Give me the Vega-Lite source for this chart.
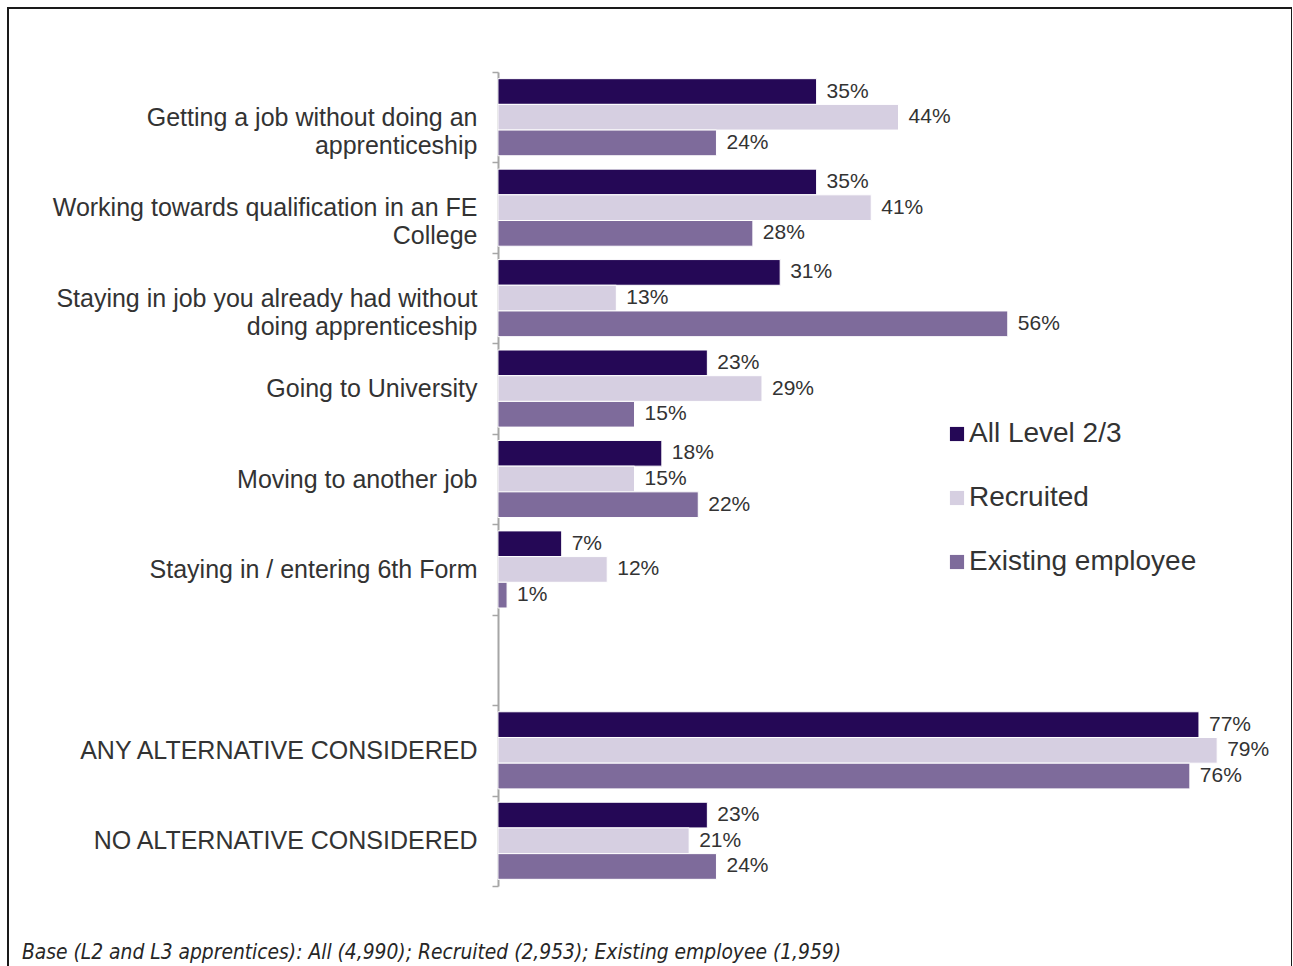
{
  "$schema": "https://vega.github.io/schema/vega-lite/v6.json",
  "width": 1284,
  "height": 960,
  "autosize": {"type": "none"},
  "padding": {"left": 8, "top": 8, "right": 0, "bottom": 0},
  "background": "white",
  "config": {
    "view": {"stroke": "#1a1a1a", "strokeWidth": 2},
    "font": "Liberation Sans"
  },
  "title": {
    "text": "Base (L2 and L3 apprentices): All (4,990); Recruited (2,953); Existing employee (1,959)",
    "orient": "bottom",
    "anchor": "start",
    "frame": "group",
    "offset": -25,
    "dx": 14,
    "font": "DejaVu Sans Condensed, Liberation Sans",
    "fontStyle": "italic",
    "fontWeight": "normal",
    "fontSize": 20.8,
    "color": "#262626"
  },
  "data": {
    "values": [
      {"category": "Getting a job without doing an|apprenticeship", "group": "All Level 2/3", "value": 35},
      {"category": "Getting a job without doing an|apprenticeship", "group": "Recruited", "value": 44},
      {"category": "Getting a job without doing an|apprenticeship", "group": "Existing employee", "value": 24},
      {"category": "Working towards qualification in an FE|College", "group": "All Level 2/3", "value": 35},
      {"category": "Working towards qualification in an FE|College", "group": "Recruited", "value": 41},
      {"category": "Working towards qualification in an FE|College", "group": "Existing employee", "value": 28},
      {"category": "Staying in job you already had without|doing apprenticeship", "group": "All Level 2/3", "value": 31},
      {"category": "Staying in job you already had without|doing apprenticeship", "group": "Recruited", "value": 13},
      {"category": "Staying in job you already had without|doing apprenticeship", "group": "Existing employee", "value": 56},
      {"category": "Going to University", "group": "All Level 2/3", "value": 23},
      {"category": "Going to University", "group": "Recruited", "value": 29},
      {"category": "Going to University", "group": "Existing employee", "value": 15},
      {"category": "Moving to another job", "group": "All Level 2/3", "value": 18},
      {"category": "Moving to another job", "group": "Recruited", "value": 15},
      {"category": "Moving to another job", "group": "Existing employee", "value": 22},
      {"category": "Staying in / entering 6th Form", "group": "All Level 2/3", "value": 7},
      {"category": "Staying in / entering 6th Form", "group": "Recruited", "value": 12},
      {"category": "Staying in / entering 6th Form", "group": "Existing employee", "value": 1},
      {"category": "ANY ALTERNATIVE CONSIDERED", "group": "All Level 2/3", "value": 77},
      {"category": "ANY ALTERNATIVE CONSIDERED", "group": "Recruited", "value": 79},
      {"category": "ANY ALTERNATIVE CONSIDERED", "group": "Existing employee", "value": 76},
      {"category": "NO ALTERNATIVE CONSIDERED", "group": "All Level 2/3", "value": 23},
      {"category": "NO ALTERNATIVE CONSIDERED", "group": "Recruited", "value": 21},
      {"category": "NO ALTERNATIVE CONSIDERED", "group": "Existing employee", "value": 24}
    ]
  },
  "encoding": {
    "y": {
      "field": "category",
      "type": "nominal",
      "scale": {
        "domain": [
          "Getting a job without doing an|apprenticeship",
          "Working towards qualification in an FE|College",
          "Staying in job you already had without|doing apprenticeship",
          "Going to University",
          "Moving to another job",
          "Staying in / entering 6th Form",
          " ",
          "ANY ALTERNATIVE CONSIDERED",
          "NO ALTERNATIVE CONSIDERED"
        ],
        "range": [64, 878],
        "paddingInner": 0,
        "paddingOuter": 0
      },
      "axis": {
        "orient": "left",
        "offset": -490,
        "title": null,
        "tickBand": "extent",
        "domainColor": "#a6a6a6",
        "domainWidth": 2,
        "tickColor": "#a6a6a6",
        "tickWidth": 1.5,
        "tickSize": 6,
        "labelFontSize": 25,
        "labelFont": "Liberation Sans",
        "labelColor": "#333333",
        "labelPadding": 15,
        "labelLimit": 600,
        "labelLineHeight": 28,
        "labelExpr": "split(datum.label, '|')"
      }
    },
    "yOffset": {
      "field": "group",
      "type": "nominal",
      "sort": ["All Level 2/3", "Recruited", "Existing employee"],
      "scale": {"paddingInner": 0, "paddingOuter": 0.26}
    },
    "x": {
      "field": "value",
      "type": "quantitative",
      "scale": {"domain": [-53.82, 87.22], "nice": false, "zero": true},
      "axis": null
    }
  },
  "layer": [
    {
      "mark": {"type": "bar", "stroke": "#ffffff", "strokeWidth": 1},
      "encoding": {
        "color": {
          "field": "group",
          "type": "nominal",
          "sort": ["All Level 2/3", "Recruited", "Existing employee"],
          "scale": {
            "domain": ["All Level 2/3", "Recruited", "Existing employee"],
            "range": ["#250856", "#d6cfe1", "#7e6b9b"]
          },
          "legend": {
            "title": null,
            "orient": "none",
            "legendX": 935,
            "legendY": 412,
            "symbolType": "square",
            "symbolSize": 200,
            "symbolStrokeWidth": 0,
            "labelFontSize": 28,
            "labelFont": "Liberation Sans",
            "labelColor": "#333333",
            "labelOffset": -2,
            "labelLimit": 500,
            "rowPadding": 36
          }
        }
      }
    },
    {
      "mark": {
        "type": "text",
        "align": "left",
        "baseline": "middle",
        "dx": 10,
        "fontSize": 21,
        "font": "Liberation Sans",
        "color": "#333333",
        "text": {"expr": "datum.value + '%'"}
      },
      "encoding": {}
    }
  ]
}
